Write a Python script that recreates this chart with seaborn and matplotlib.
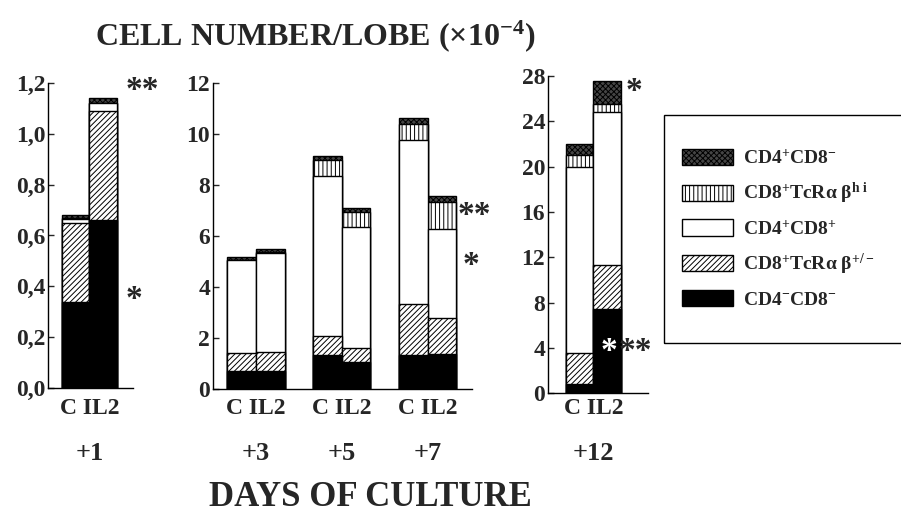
import numpy as np
import pandas as pd
import matplotlib
matplotlib.use("Agg")
import matplotlib.pyplot as plt
import matplotlib.patches as mpatches
from matplotlib.transforms import blended_transform_factory
import seaborn as sns

# cell subsets, bottom -> top of each stacked bar
subsets = ["CD4-CD8-", "CD8+TcRab+/-", "CD4+CD8+", "CD8+TcRab hi", "CD4+CD8-"]
legend_labels = {
    "CD4+CD8-": r"CD4$^{+}$CD8$^{-}$",
    "CD8+TcRab hi": r"CD8$^{+}$TcRα β$^{h\ i}$",
    "CD4+CD8+": r"CD4$^{+}$CD8$^{+}$",
    "CD8+TcRab+/-": r"CD8$^{+}$TcRα β$^{+/-}$",
    "CD4-CD8-": r"CD4$^{-}$CD8$^{-}$",
}

days = ["+1", "+1", "+3", "+3", "+5", "+5", "+7", "+7", "+12", "+12"]
group = ["C", "IL2"] * 5

# cumulative tops (x10^-4 cells per lobe)
cum_dn = [0.34, 0.66, 0.72, 0.70, 1.35, 1.08, 1.35, 1.39, 0.8, 7.4]
cum_tcr_lo = [0.65, 1.09, 1.41, 1.48, 2.09, 1.61, 3.33, 2.81, 3.6, 11.3]
cum_dp = [0.665, 1.12, 5.07, 5.33, 8.37, 6.38, 9.78, 6.27, 20.0, 24.8]
cum_tcr_hi = [0.67, 1.12, 5.08, 5.38, 9.00, 6.97, 10.39, 7.36, 21.0, 25.5]
cum_total = [0.68, 1.14, 5.18, 5.50, 9.15, 7.12, 10.65, 7.58, 22.0, 27.6]

df = pd.DataFrame({"day": days, "group": group, "CD4-CD8-": cum_dn,
                   "CD8+TcRab+/-": cum_tcr_lo, "CD4+CD8+": cum_dp,
                   "CD8+TcRab hi": cum_tcr_hi, "CD4+CD8-": cum_total})

styles = {
    "CD4+CD8-": dict(color="#454545", hatch="xxxxxx"),
    "CD8+TcRab hi": dict(color="white", hatch="||||"),
    "CD4+CD8+": dict(color="white", hatch=""),
    "CD8+TcRab+/-": dict(color="white", hatch="//////"),
    "CD4-CD8-": dict(color="black", hatch=""),
}

sns.set_theme(style="ticks")
plt.rcParams["font.family"] = ["Liberation Serif", "DejaVu Serif"]
plt.rcParams["font.weight"] = "bold"
plt.rcParams["mathtext.fontset"] = "custom"
plt.rcParams["mathtext.rm"] = "Liberation Serif:bold"
plt.rcParams["mathtext.bf"] = "Liberation Serif:bold"
plt.rcParams["mathtext.it"] = "Liberation Serif:bold"
plt.rcParams["mathtext.default"] = "rm"
plt.rcParams["hatch.linewidth"] = 0.7
plt.rcParams["hatch.color"] = "black"

fig = plt.figure(figsize=(9.01, 5.14), dpi=100)

panels = [
    dict(days=["+1"], rect=[48, 82.7, 133, 388.3], ylim=1.2, ticks=np.arange(0, 1.21, 0.2),
         fmt=lambda v: f"{v:.1f}".replace(".", ","), xlim=(0, 3.09), pos=[1, 2]),
    dict(days=["+3", "+5", "+7"], rect=[213, 83.3, 472, 389.3], ylim=12, ticks=np.arange(0, 13, 2),
         fmt=lambda v: f"{v:.0f}", xlim=(0, 9.05), pos=[1, 2, 4, 5, 7, 8]),
    dict(days=["+12"], rect=[548, 76, 648, 393.3], ylim=28, ticks=np.arange(0, 29, 4),
         fmt=lambda v: f"{v:.0f}", xlim=(-0.15, 3.49), pos=[1, 2]),
]

W, H = 901, 514
axes = []
for p in panels:
    x0, y0, x1, y1 = p["rect"]
    ax = fig.add_axes([x0 / W, 1 - y1 / H, (x1 - x0) / W, (y1 - y0) / H])
    sub = df[df["day"].isin(p["days"])].copy()
    sub["x"] = p["pos"]
    for s in reversed(subsets):
        sns.barplot(data=sub, x="x", y=s, native_scale=True, errorbar=None, width=1,
                    color=styles[s]["color"], hatch=styles[s]["hatch"],
                    edgecolor="black", linewidth=1.0, saturation=1, ax=ax)
    ax.set_xlim(*p["xlim"])
    ax.set_ylim(0, p["ylim"])
    ax.set_yticks(p["ticks"])
    ax.set_yticklabels([p["fmt"](v) for v in p["ticks"]])
    ax.set_xticks([])
    ax.set_xlabel("")
    ax.set_ylabel("")
    ax.tick_params(axis="y", direction="in", length=4, width=1, pad=2, labelsize=17)
    sns.despine(ax=ax)
    for sp in ["left", "bottom"]:
        ax.spines[sp].set_linewidth(1.0)
        ax.spines[sp].set_color("black")
    tr = blended_transform_factory(ax.transData, fig.transFigure)
    pos = p["pos"]
    for i, d in enumerate(p["days"]):
        xc = (pos[2 * i] + pos[2 * i + 1]) / 2
        ax.text(xc, 1 - 409 / H, "C IL2", transform=tr, ha="center", va="center",
                fontsize=17, fontweight="bold")
        ax.text(xc, 1 - 453 / H, d, transform=tr, ha="center", va="center",
                fontsize=19, fontweight="bold")
    axes.append(ax)

# significance marks
star = dict(fontsize=24, fontweight="bold", ha="center", va="center", clip_on=False)
axes[0].text(3.42, 1.17, "**", **star)
axes[0].text(3.13, 0.347, "*", **star)
axes[1].text(9.12, 6.8, "**", **star)
axes[1].text(9.0, 4.84, "*", **star)
axes[2].text(2.98, 26.6, "*", **star)
axes[2].text(2.08, 3.67, "*", color="white", **star)
axes[2].text(3.02, 3.67, "**", **star)

fig.text(315 / W, 1 - 36 / H, r"CELL NUMBER/LOBE (×10$^{-4}$)", ha="center", va="center",
         fontsize=23, fontweight="bold")
fig.text(370 / W, 1 - 497 / H, "DAYS OF CULTURE", ha="center", va="center",
         fontsize=25, fontweight="bold")

# legend, with its box running off the right edge
fig.add_artist(mpatches.Rectangle((664 / W, 1 - 343 / H), 0.4, (343 - 115) / H,
                                  transform=fig.transFigure, fill=False, edgecolor="black",
                                  linewidth=1.0, clip_on=False))
handles = [mpatches.Patch(facecolor=styles[s]["color"], hatch=styles[s]["hatch"],
                          edgecolor="black", linewidth=1.0, label=legend_labels[s])
           for s in reversed(subsets)]
fig.legend(handles=handles, loc="upper left", bbox_to_anchor=(682 / W, 1 - 149 / H),
           frameon=False, handlelength=2.6, handleheight=0.9,
           handletextpad=0.55, labelspacing=0.68, borderpad=0, borderaxespad=0,
           prop=dict(family="Liberation Serif", weight="bold", size=14))

fig.savefig("out.png", dpi=100)
